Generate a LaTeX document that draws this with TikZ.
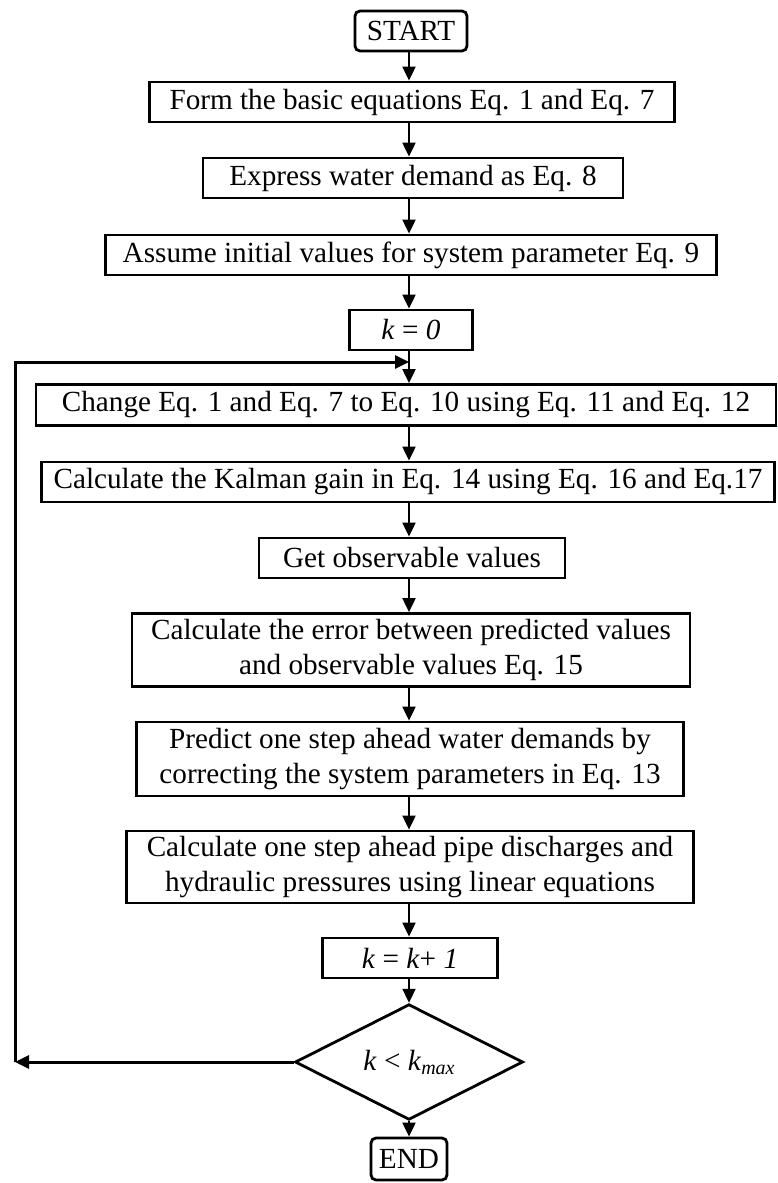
\documentclass[tikz,border=0pt]{standalone}
\usepackage{fontspec}
\setmainfont{Liberation Serif}
\usetikzlibrary{arrows.meta,shapes.geometric}
\newcommand{\fsz}{\fontsize{29.2}{35}\selectfont}
\tikzset{
  box/.style={draw, line width=2.8pt, inner sep=0pt, font=\fsz, align=center},
  term/.style={box, rounded corners=5pt},
  arr/.style={line width=2pt, -{Triangle[length=14pt,width=13pt]}},
  loopln/.style={arr, line width=3pt}
}
\begin{document}
\begin{tikzpicture}[x=1pt,y=-1pt]
\useasboundingbox (0,0) rectangle (778,1183);
\node[term, minimum width=112pt, minimum height=40pt] (start) at (411,31) {START};
\node[box, minimum width=525pt, minimum height=40pt] (b1) at (412,102) {Form the basic equations Eq. 1 and Eq. 7};
\node[box, minimum width=420pt, minimum height=40pt] (b2) at (413,178) {Express water demand as Eq. 8};
\node[box, minimum width=611pt, minimum height=40pt] (b3) at (411,255) {Assume initial values for system parameter Eq. 9};
\node[box, minimum width=123pt, minimum height=40pt] (k0) at (411,330) {\textit{k} = \textit{0}};
\node[box, minimum width=740pt, minimum height=41pt] (b4) at (406,405) {Change Eq. 1 and Eq. 7 to Eq. 10 using Eq. 11 and Eq. 12};
\node[box, minimum width=733pt, minimum height=40pt] (b5) at (408,482) {Calculate the Kalman gain in Eq. 14 using Eq. 16 and Eq.17};
\node[box, minimum width=306pt, minimum height=40pt] (b6) at (412,558) {Get observable values};
\node[box, minimum width=558pt, minimum height=73pt] (b7) at (411,650) {Calculate the error between predicted values\\and observable values Eq. 15};
\node[box, minimum width=547pt, minimum height=74pt] (b8) at (410,759) {Predict one step ahead water demands by\\correcting the system parameters in Eq. 13};
\node[box, minimum width=567pt, minimum height=72pt] (b9) at (410,867) {Calculate one step ahead pipe discharges and\\hydraulic pressures using linear equations};
\node[box, minimum width=175pt, minimum height=40pt] (k1) at (410,958) {\textit{k} = \textit{k}+ \textit{1}};
\node[box, diamond, minimum width=228pt, minimum height=64pt] (dec) at (409,1062) {\textit{k} < \textit{k}\raisebox{-0.3ex}{\fontsize{20}{20}\selectfont\textit{max}}};
\node[term, minimum width=76pt, minimum height=42pt] (end) at (409,1159) {END};
\coordinate (c1) at (15,1062);
\coordinate (c2) at (15,362);
\coordinate (j) at (409,362);
\draw[arr] (start.south -| j) -- (b1.north -| j);
\draw[arr] (b1.south -| j) -- (b2.north -| j);
\draw[arr] (b2.south -| j) -- (b3.north -| j);
\draw[arr] (b3.south -| j) -- (k0.north -| j);
\draw[arr] (k0.south -| j) -- (b4.north -| j);
\draw[arr] (b4.south -| j) -- (b5.north -| j);
\draw[arr] (b5.south -| j) -- (b6.north -| j);
\draw[arr] (b6.south -| j) -- (b7.north -| j);
\draw[arr] (b7.south -| j) -- (b8.north -| j);
\draw[arr] (b8.south -| j) -- (b9.north -| j);
\draw[arr] (b9.south -| j) -- (k1.north -| j);
\draw[arr] (k1.south -| j) -- (dec.north);
\draw[arr] (dec.south) -- (end.north);
\draw[loopln] (dec.west) -- (c1);
\draw[loopln] (c1) -- (c2) -- (j);
\end{tikzpicture}
\end{document}
